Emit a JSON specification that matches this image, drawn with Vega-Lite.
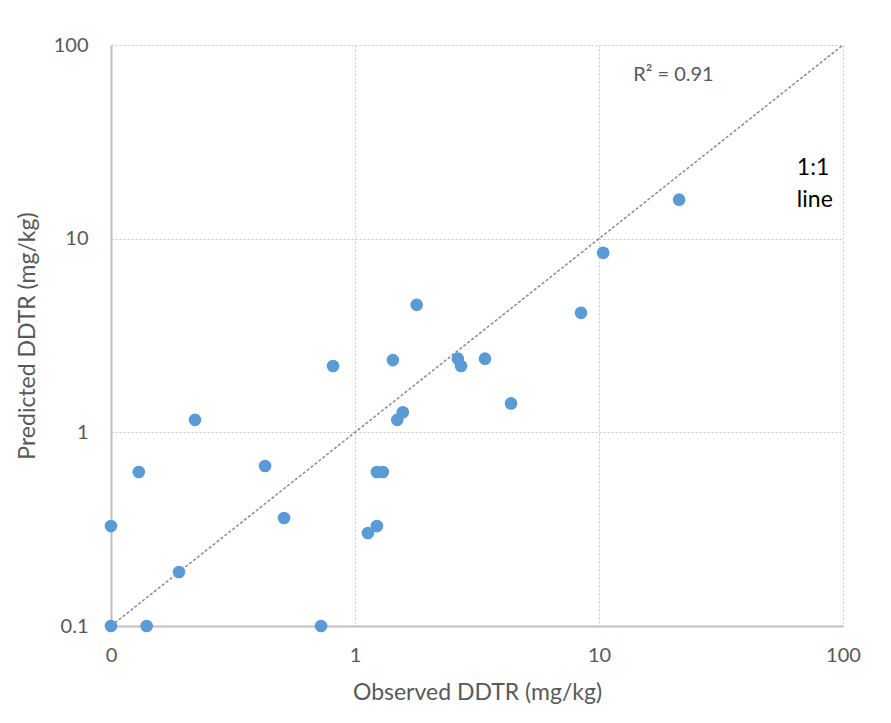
{
  "$schema": "https://vega.github.io/schema/vega-lite/v6.json",
  "width": 732,
  "height": 581,
  "autosize": {"type": "none"},
  "padding": {"left": 111, "top": 45, "right": 48, "bottom": 97},
  "background": "white",
  "config": {
    "view": {"stroke": null},
    "font": "Lato",
    "axis": {
      "labelFont": "Lato",
      "titleFont": "Lato",
      "labelColor": "#595959",
      "titleColor": "#595959",
      "labelFontSize": 20,
      "titleFontSize": 23,
      "titleFontWeight": "normal",
      "labelFlush": false,
      "ticks": false,
      "gridColor": "#c8c8c8",
      "gridDash": [2, 2],
      "gridWidth": 1,
      "domainColor": "#bfbfbf",
      "domainWidth": 2
    }
  },
  "datasets": {
    "pts": [
      {"observed": 0.1, "predicted": 0.1},
      {"observed": 0.14, "predicted": 0.1},
      {"observed": 0.726, "predicted": 0.1},
      {"observed": 0.1, "predicted": 0.328},
      {"observed": 0.13, "predicted": 0.624},
      {"observed": 0.19, "predicted": 0.19},
      {"observed": 0.221, "predicted": 1.16},
      {"observed": 0.428, "predicted": 0.67},
      {"observed": 0.512, "predicted": 0.361},
      {"observed": 0.813, "predicted": 2.2},
      {"observed": 1.13, "predicted": 0.302},
      {"observed": 1.23, "predicted": 0.328},
      {"observed": 1.23, "predicted": 0.624},
      {"observed": 1.3, "predicted": 0.624},
      {"observed": 1.43, "predicted": 2.36},
      {"observed": 1.49, "predicted": 1.16},
      {"observed": 1.57, "predicted": 1.27},
      {"observed": 1.79, "predicted": 4.55},
      {"observed": 2.64, "predicted": 2.4},
      {"observed": 2.72, "predicted": 2.2},
      {"observed": 3.41, "predicted": 2.4},
      {"observed": 4.36, "predicted": 1.41},
      {"observed": 8.44, "predicted": 4.14},
      {"observed": 10.4, "predicted": 8.45},
      {"observed": 21.3, "predicted": 15.9}
    ],
    "oneToOne": [
      {"observed": 0.1, "predicted": 0.1},
      {"observed": 100, "predicted": 100}
    ],
    "notes": [
      {"observed": 13.8, "predicted": 70.1, "label": "R² = 0.91", "kind": "r2"},
      {"observed": 64.7, "predicted": 23.2, "label": "1:1", "kind": "line"},
      {"observed": 64.7, "predicted": 15.8, "label": "line", "kind": "line"}
    ]
  },
  "layer": [
    {
      "data": {"name": "oneToOne"},
      "mark": {"type": "line", "color": "#8a8a8a", "strokeDash": [3, 2], "strokeWidth": 1.5},
      "encoding": {
        "x": {
          "field": "observed", "type": "quantitative",
          "scale": {"type": "log", "domain": [0.1, 100], "nice": false},
          "axis": {
            "title": "Observed DDTR (mg/kg)",
            "values": [0.1, 1, 10, 100],
            "labelExpr": "datum.value < 0.5 ? '0' : format(datum.value, '~g')",
            "labelPadding": 19,
            "titlePadding": 16,
            "grid": true
          }
        },
        "y": {
          "field": "predicted", "type": "quantitative",
          "scale": {"type": "log", "domain": [0.1, 100], "nice": false},
          "axis": {
            "title": "Predicted DDTR (mg/kg)",
            "values": [0.1, 1, 10, 100],
            "labelExpr": "format(datum.value, '~g')",
            "labelPadding": 23,
            "titlePadding": 14,
            "grid": true
          }
        }
      }
    },
    {
      "data": {"name": "pts"},
      "mark": {"type": "circle", "color": "#5B9BD5", "opacity": 1, "size": 160},
      "encoding": {
        "x": {"field": "observed", "type": "quantitative"},
        "y": {"field": "predicted", "type": "quantitative"}
      }
    },
    {
      "data": {"name": "notes"},
      "mark": {"type": "text", "align": "left", "baseline": "middle", "font": "Lato"},
      "encoding": {
        "x": {"field": "observed", "type": "quantitative"},
        "y": {"field": "predicted", "type": "quantitative"},
        "text": {"field": "label"},
        "color": {
          "field": "kind", "type": "nominal",
          "scale": {"domain": ["r2", "line"], "range": ["#595959", "#000000"]},
          "legend": null
        },
        "size": {
          "field": "kind", "type": "nominal",
          "scale": {"domain": ["r2", "line"], "range": [20, 23]},
          "legend": null
        }
      }
    }
  ]
}
